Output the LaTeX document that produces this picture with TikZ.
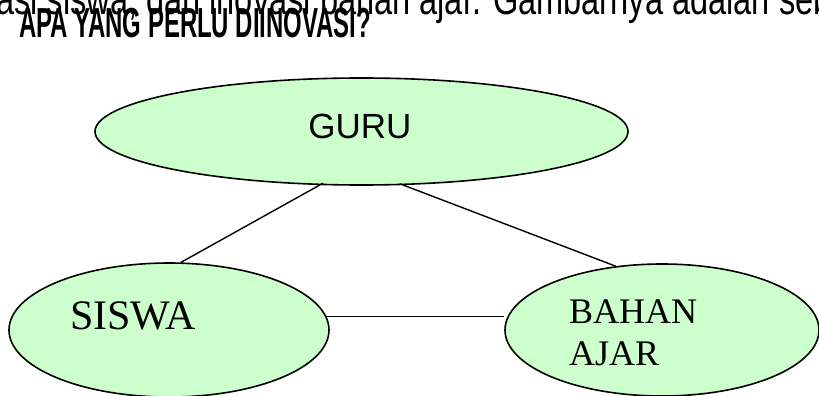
\documentclass[tikz,border=0pt]{standalone}
\usepackage{fontspec}
\setmainfont{Liberation Serif}
\newfontfamily\arialfont{Liberation Sans}
\usetikzlibrary{shapes.geometric,calc}
\definecolor{lightgreen}{RGB}{204,255,204}

\begin{document}
\begin{tikzpicture}[x=1pt,y=-1pt]
\tikzstyle{bubble}=[ellipse,draw=black,line width=1.6pt,fill=lightgreen,inner sep=0pt]
\tikzstyle{link}=[line width=1.4pt]
\tikzstyle{label}=[inner sep=0pt,anchor=base west]
\useasboundingbox (0,0) rectangle (819,396);
\clip (0,0) rectangle (819,396);

\node[label,font=\arialfont\fontsize{44}{50}\selectfont,xscale=0.74] (intro) at (-4,15) {asi siswa, dan inovasi bahan ajar. Gambarnya adalah seb};
\node[label,font=\arialfont\bfseries\fontsize{42}{48}\selectfont,xscale=0.57] (judul) at (19,38) {APA YANG PERLU DIINOVASI?};

\node[bubble,minimum width=533pt,minimum height=107pt] (guru) at (361.5,131.5) {};
\node[bubble,minimum width=320pt,minimum height=134pt] (siswa) at (169,330) {};
\node[bubble,minimum width=314pt,minimum height=132pt] (bahan) at (662,330) {};

\node[label,anchor=base,font=\arialfont\fontsize{35}{42}\selectfont] (gurutxt) at (360,138) {GURU};
\node[label,font=\fontsize{42}{48}\selectfont] (siswatxt) at (70,329) {SISWA};
\node[label,font=\fontsize{36}{42}\selectfont] (bahantxt) at (569,323) {BAHAN};
\node[label,font=\fontsize{36}{42}\selectfont] (ajartxt) at (569,365) {AJAR};

\draw[link,shorten <=-4pt] (guru.232) -- (siswa.80);
\draw[link,shorten <=-4pt] (guru.308) -- (bahan.126);
\draw[link] (siswa.5) -- (siswa.5 -| bahan.west);
\end{tikzpicture}
\end{document}
